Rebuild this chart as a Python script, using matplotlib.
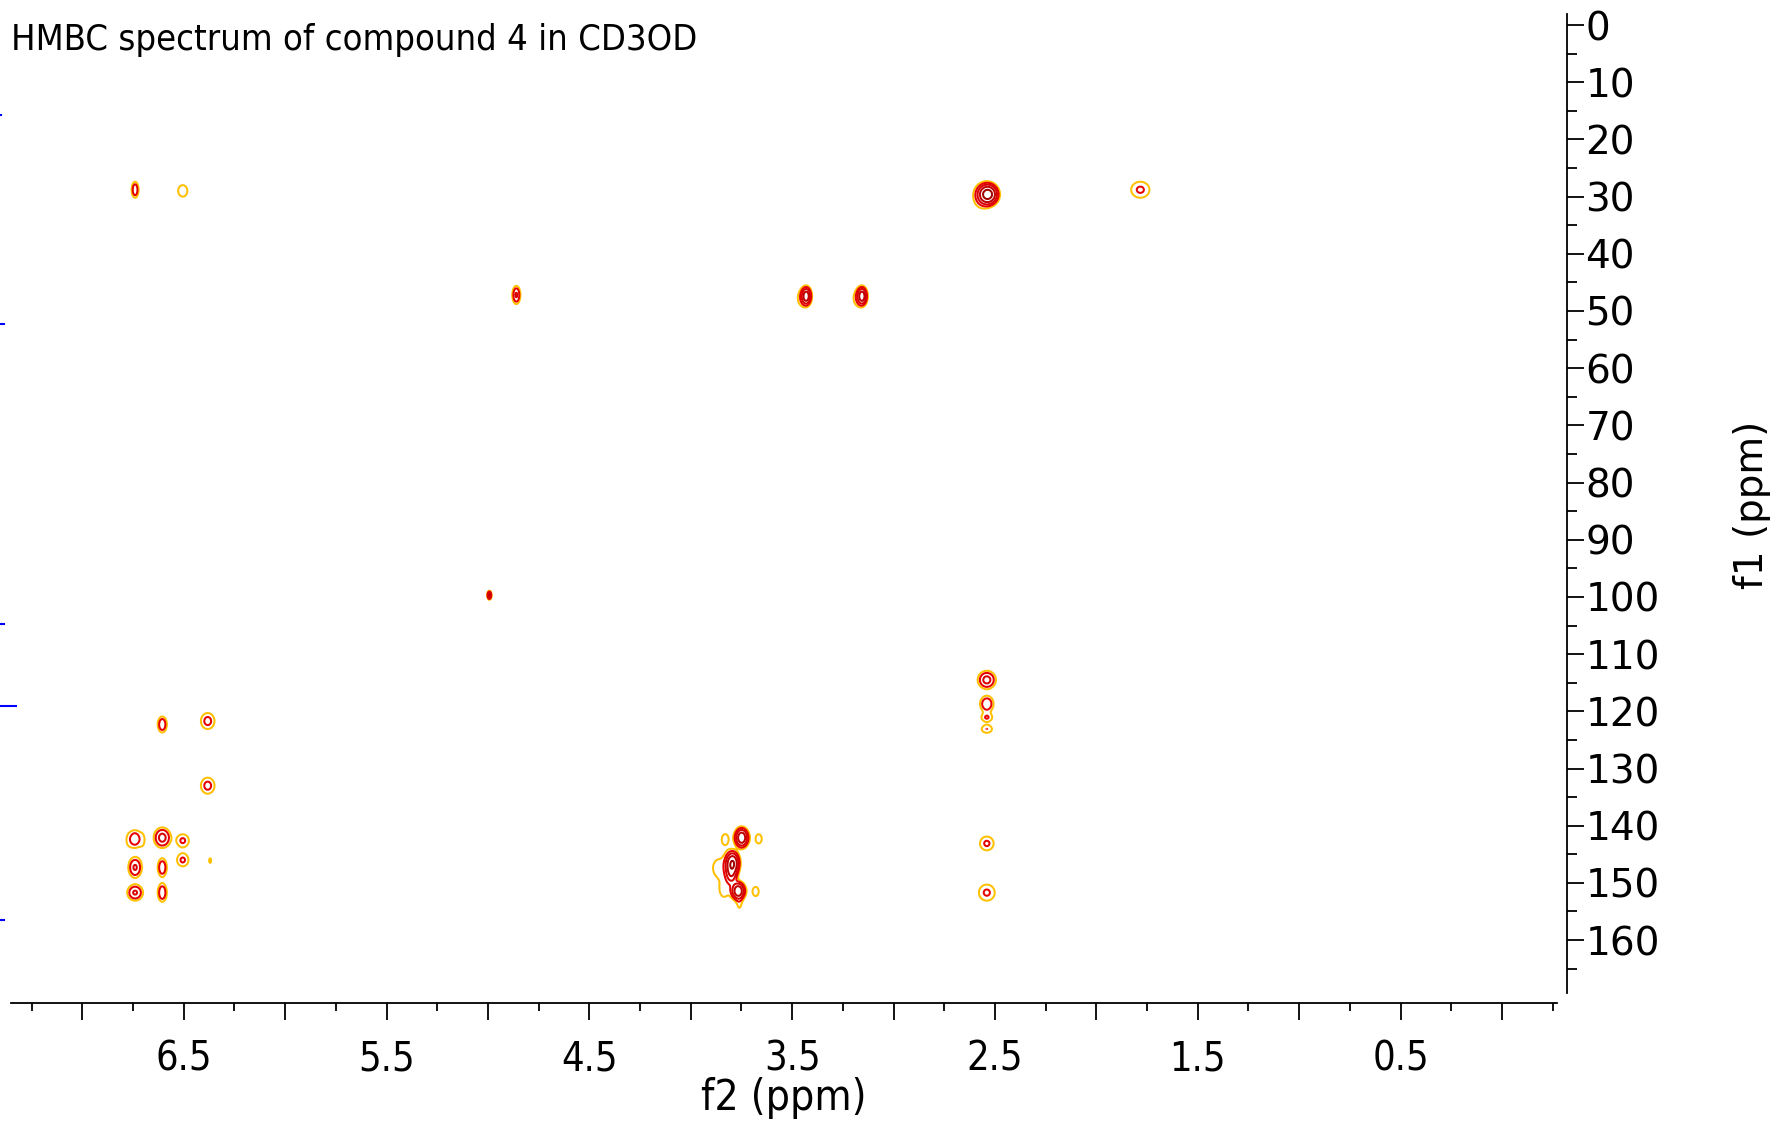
import numpy as np
import matplotlib
matplotlib.use("Agg")
import matplotlib.pyplot as plt
from matplotlib import transforms

# ---------------- data ----------------
title = "HMBC spectrum of compound 4 in CD3OD"
xlabel = "f2 (ppm)"
ylabel = "f1 (ppm)"

# cross peaks: f2 (1H ppm), f1 (13C ppm), relative intensity, outer-contour size in f2 / f1 (ppm)
peak_f2 = [6.74, 6.505, 2.535, 2.57, 1.783, 4.86, 3.43, 3.455, 3.155, 3.18, 4.993,
           2.54, 2.54, 2.54, 2.54, 6.606, 6.382, 6.382,
           6.74, 6.772, 6.703, 6.606, 6.505, 6.505, 6.37,
           6.74, 6.606, 6.74, 6.606,
           3.749, 3.83, 3.665, 3.794, 3.80, 3.86, 3.766, 3.835, 3.68, 3.76,
           2.54, 2.54]
peak_f1 = [28.8, 29.0, 29.6, 30.2, 28.8, 47.2, 47.4, 47.8, 47.4, 47.8, 99.7,
           114.5, 118.7, 121.1, 123.1, 122.3, 121.7, 133.0,
           142.3, 142.5, 142.5, 142.1, 142.6, 146.0, 146.1,
           147.3, 147.3, 151.7, 151.7,
           142.1, 142.3, 142.3, 146.5, 148.3, 147.4, 151.4, 151.5, 151.5, 153.8,
           143.1, 151.7]
peak_int = [3.0, 1.25, 14.0, 1.3, 2.0, 3.5, 8.0, 1.25, 8.0, 1.25, 6.0,
            4.0, 3.0, 1.8, 1.8, 3.0, 2.2, 2.2,
            2.5, 1.1, 1.1, 4.0, 2.0, 2.0, 1.06,
            3.5, 3.0, 3.5, 3.0,
            9.0, 1.25, 1.25, 10.0, 5.0, 1.3, 9.0, 1.2, 1.2, 1.1,
            2.0, 2.0]
peak_w2 = [0.034, 0.045, 0.12, 0.05, 0.09, 0.04, 0.056, 0.03, 0.056, 0.03, 0.022,
           0.09, 0.067, 0.05, 0.05, 0.045, 0.067, 0.067,
           0.045, 0.015, 0.015, 0.085, 0.06, 0.056, 0.01,
           0.067, 0.045, 0.078, 0.045,
           0.078, 0.03, 0.03, 0.08, 0.06, 0.06, 0.078, 0.03, 0.03, 0.012,
           0.067, 0.078]
peak_w1 = [2.8, 2.0, 4.4, 2.5, 2.8, 3.2, 3.6, 1.8, 3.6, 1.8, 1.6,
           3.2, 2.8, 1.3, 1.3, 2.8, 2.8, 2.8,
           2.8, 1.2, 1.4, 3.6, 2.2, 2.2, 0.8,
           3.6, 3.2, 2.8, 3.2,
           4.0, 1.6, 1.6, 4.6, 4.0, 3.0, 3.6, 1.6, 1.6, 1.0,
           2.4, 2.8]

# fragments of the 13C projection visible at the left edge (ppm, relative length)
proj_f1 = [15.7, 52.3, 104.7, 119.0, 156.4]
proj_len = [0.3, 1.0, 1.0, 3.5, 1.0]

xticks_labelled = [6.5, 5.5, 4.5, 3.5, 2.5, 1.5, 0.5]
yticks = list(range(0, 161, 10))
ytick_labels = [str(v) for v in yticks]

# ---------------- figure ----------------
W, H = 1781, 1123
fig = plt.figure(figsize=(W / 100, H / 100), dpi=100)
ax = fig.add_axes([11.4 / W, 120 / H, (1567.4 - 11.4) / W, (1003 - 13.6) / H])

x = np.linspace(-0.4, 7.45, 2400)
y = np.linspace(-3, 172, 1600)
X, Y = np.meshgrid(x, y)
Z = np.zeros_like(X)
for f2, f1, a, w2, w1 in zip(peak_f2, peak_f1, peak_int, peak_w2, peak_w1):
    k = 2 * np.sqrt(2 * np.log(a))
    sx, sy = w2 / k, w1 / k
    Z += a * np.exp(-0.5 * (((X - f2) / sx) ** 2 + ((Y - f1) / sy) ** 2))

levels = 1.0 * 1.8 ** np.arange(0, 7)
colors = ["#FFC000", "#E60000", "#D80000", "#C00000", "#A00000",
          "#800000", "#6A0000"]
ax.contour(X, Y, Z, levels=levels, colors=colors, linewidths=1.45)

ax.set_xlim(7.35, -0.323)
ax.set_ylim(171.0, -2.0)

for s in ["top", "left"]:
    ax.spines[s].set_visible(False)
ax.spines["bottom"].set_bounds(7.35, -0.27)
ax.spines["right"].set_bounds(-2.0, 169.3)
ax.spines["bottom"].set_linewidth(1.3)
ax.spines["right"].set_linewidth(1.3)

# x ticks
xmaj = np.arange(7.0, -0.01, -0.5)
ax.set_xticks(xmaj)
ax.set_xticklabels([f"{v:.1f}" if any(abs(v - t) < 1e-6 for t in xticks_labelled) else ""
                    for v in xmaj])
ax.set_xticks(np.arange(7.25, -0.3, -0.5), minor=True)
ax.tick_params(axis="x", which="major", direction="out", length=12, width=1.3,
               labelsize=28.5, pad=14)
ax.tick_params(axis="x", which="minor", direction="out", length=6, width=1.3)
for t in ax.get_xticklabels():
    t.set_fontstretch("condensed")

# y ticks on the right
ax.yaxis.tick_right()
ax.set_yticks(yticks)
ax.set_yticklabels(ytick_labels)
ax.set_yticks(np.arange(5, 170, 10), minor=True)
ax.tick_params(axis="y", which="major", direction="out", length=12, width=1.3,
               labelsize=28, pad=1)
ax.tick_params(axis="y", which="minor", direction="out", length=7, width=1.3)

# projection fragments at left edge
trans = transforms.blended_transform_factory(fig.transFigure, ax.transData)
for f1, ln in zip(proj_f1, proj_len):
    ax.plot([0, ln * 0.0025], [f1, f1], color="blue", lw=1.5, transform=trans,
            clip_on=False)

fig.text(11 / W, 1 - 40 / H, title, fontsize=26, ha="left", va="center",
         fontstretch="condensed")
fig.text(784 / W, 1 - 1098 / H, xlabel, fontsize=30.5, ha="center", va="center",
         fontstretch="condensed")
fig.text(1752 / W, 1 - 505 / H, ylabel, fontsize=28, ha="center", va="center",
         rotation=90)

fig.savefig("out.png", dpi=100, facecolor="white")
